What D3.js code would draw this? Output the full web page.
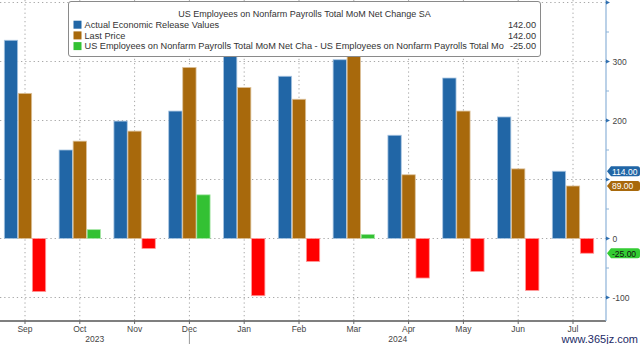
<!DOCTYPE html>
<html><head><meta charset="utf-8">
<script src="https://cdn.jsdelivr.net/npm/d3@7"></script>
<style>body{margin:0;background:#fff}svg{display:block}text{font-family:"Liberation Sans",Arial,sans-serif}</style>
</head><body><svg id="c" width="640" height="344"></svg>
<script>
const months = ["Sep","Oct","Nov","Dec","Jan","Feb","Mar","Apr","May","Jun","Jul"];
const years = [{label:"2023", from:null, to:"Dec"},{label:"2024", from:"Dec", to:null}];
const actual = [336,150,199,216,353,275,303,175,272,206,114];
const lastPrice = [246,165,182,290,256,236,310,108,216,118,89];
const diff = [-90,15,-17,74,-97,-39,7,-67,-56,-88,-25];
const yTicks = [-100,0,100,200,300,400];
const yMinor = [-50,50,150,250,350];
const legendTitle = "US Employees on Nonfarm Payrolls Total MoM Net Change SA";
const legendItems = [
  {name:"Actual Economic Release Values", value:"142.00", color:"#2166a6"},
  {name:"Last Price", value:"142.00", color:"#a8690c"},
  {name:"US Employees on Nonfarm Payrolls Total MoM Net Cha - US Employees on Nonfarm Payrolls Total Mo", value:"-25.00", color:"#33c133"}
];
const lastLabels = [
  {value:114, text:"114.00", fill:"#2166a6", color:"#fff"},
  {value:89, text:"89.00", fill:"#a8690c", color:"#fff"},
  {value:-25, text:"-25.00", fill:"#33cc33", color:"#111"}
];

const svg = d3.select("#c");
const plotRight = 606, plotBottom = 321;
const x = d3.scaleBand().domain(months).range([-2.4, 600.4]).paddingInner(0.245).paddingOuter(0.1225);
const sub = d3.scaleBand().domain(["a","l","d"]).range([0, x.bandwidth()]).paddingInner(0.05);
const y = d3.scaleLinear().domain([-100, 300]).range([297.5, 61.5]);
const cx = m => x(m) + x.bandwidth()/2;

// gridlines
svg.append("g").selectAll("line").data(yTicks).join("line")
  .attr("x1",0).attr("x2",plotRight).attr("y1",d=>y(d)).attr("y2",d=>y(d))
  .attr("stroke","#a8a8a8").attr("stroke-width",1).attr("stroke-dasharray","1.3,2.9");
svg.append("g").selectAll("line").data(months).join("line")
  .attr("x1",d=>cx(d)).attr("x2",d=>cx(d)).attr("y1",0).attr("y2",plotBottom)
  .attr("stroke","#a8a8a8").attr("stroke-width",1).attr("stroke-dasharray","1.3,2.9");

// bars
const series = [
  {key:"a", vals:actual, color:()=>"#2166a6", stroke:"#a9c6e2"},
  {key:"l", vals:lastPrice, color:()=>"#a8690c", stroke:"#dcc19a"},
  {key:"d", vals:diff, color:v=>v<0?"#ff0000":"#33c133", stroke:null}
];
series.forEach(s=>{
  svg.append("g").selectAll("rect").data(months).join("rect")
    .attr("x",(m)=>x(m)+sub(s.key))
    .attr("width",sub.bandwidth())
    .attr("y",(m,i)=>y(Math.max(0,s.vals[i])))
    .attr("height",(m,i)=>Math.abs(y(s.vals[i])-y(0)))
    .attr("fill",(m,i)=>s.color(s.vals[i]))
    .attr("stroke",(m,i)=> s.stroke ? s.stroke : (s.vals[i]<0?"#ff9a9a":"#a6e6a6"))
    .attr("stroke-width",0.8);
});

// bottom axis
svg.append("line").attr("x1",0).attr("x2",plotRight).attr("y1",plotBottom).attr("y2",plotBottom)
  .attr("stroke","#555").attr("stroke-width",1.5);
svg.append("g").selectAll("line").data(months).join("line")
  .attr("x1",d=>cx(d)).attr("x2",d=>cx(d)).attr("y1",plotBottom).attr("y2",plotBottom+3)
  .attr("stroke","#666");
svg.append("g").selectAll("text").data(months).join("text")
  .attr("x",d=>cx(d)).attr("y",331.5).attr("text-anchor","middle")
  .attr("font-size",8.5).attr("fill","#444").text(d=>d);
const sepX = cx("Dec");
svg.append("line").attr("x1",sepX).attr("x2",sepX).attr("y1",331).attr("y2",344).attr("stroke","#999");
svg.append("g").selectAll("text").data(years).join("text")
  .attr("x",d=>((d.from?cx(d.from):0)+(d.to?cx(d.to):plotRight))/2).attr("y",342)
  .attr("text-anchor","middle").attr("font-size",8.5).attr("fill","#444").text(d=>d.label);

// right axis
svg.append("line").attr("x1",plotRight).attr("x2",plotRight).attr("y1",0).attr("y2",plotBottom)
  .attr("stroke","#8db3d8").attr("stroke-width",1.2);
svg.append("g").selectAll("path").data(yTicks).join("path")
  .attr("d",d=>`M${plotRight},${y(d)-2}L${plotRight+4},${y(d)}L${plotRight},${y(d)+2}Z`)
  .attr("fill","#2f6fb0");
svg.append("g").selectAll("line").data(yMinor).join("line")
  .attr("x1",plotRight).attr("x2",plotRight+3).attr("y1",d=>y(d)).attr("y2",d=>y(d))
  .attr("stroke","#8db3d8");
svg.append("g").selectAll("text").data(yTicks.filter(v=>v!==100 && v!==400)).join("text")
  .attr("x",612.5).attr("y",d=>y(d)+3).attr("font-size",8.5).attr("fill","#444").text(d=>d);

// last value labels
const lab = svg.append("g").selectAll("g").data(lastLabels).join("g")
  .attr("transform",d=>`translate(0,${y(d.value)})`);
lab.append("path").attr("d","M607,0L611,-5H637.5Q640,-5 640,-2.5V2.5Q640,5 637.5,5H611Z")
  .attr("fill",d=>d.fill);
lab.append("text").attr("x",612).attr("y",3.3).attr("font-size",8.5).attr("fill",d=>d.color).text(d=>d.text);

// legend
const lg = svg.append("g");
lg.append("rect").attr("x",68.5).attr("y",1.5).attr("width",472).attr("height",55).attr("rx",2.5)
  .attr("fill","#fff").attr("stroke","#8a8a8a").attr("stroke-width",1);
lg.append("text").attr("x",304.5).attr("y",17).attr("text-anchor","middle").attr("font-size",9)
  .attr("fill","#333").text(legendTitle);
const li = lg.selectAll("g.i").data(legendItems).join("g").attr("class","i")
  .attr("transform",(d,i)=>`translate(0,${24.7+i*10.7})`);
li.append("rect").attr("x",73.5).attr("y",-4).attr("width",8).attr("height",8).attr("fill",d=>d.color);
li.append("text").attr("x",84.5).attr("y",3.3).attr("font-size",9.2).attr("fill","#333").text(d=>d.name);
li.append("text").attr("x",536).attr("y",3.3).attr("text-anchor","end").attr("font-size",9.2).attr("fill","#333").text(d=>d.value);

// watermark (kept, moved below the month labels so it does not cover them)
svg.append("text").attr("x",638).attr("y",343).attr("text-anchor","end")
  .attr("font-family","'DejaVu Serif',serif").attr("font-size",11)
  .attr("fill","#1c2a66").text("www.365jz.com");
</script></body></html>
